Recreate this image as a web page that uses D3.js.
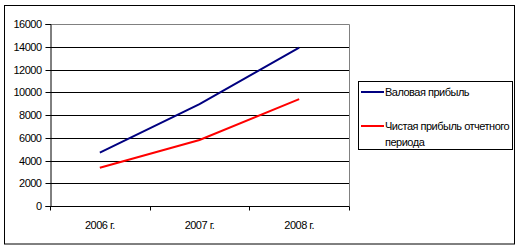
<!DOCTYPE html>
<html>
<head>
<meta charset="utf-8">
<script src="https://cdn.jsdelivr.net/npm/d3@7"></script>
<style>
  body { margin: 0; background: #fff; }
  svg text { font-family: "Liberation Sans", Arial, sans-serif; font-size: 11px; letter-spacing: -0.5px; fill: #000; }
</style>
</head>
<body>
<div id="chart"></div>
<script>
const years = ['2006 г.', '2007 г.', '2008 г.'];
const gross = [4690, 8950, 13920];
const net = [3370, 5800, 9390];
const yTicks = [0, 2000, 4000, 6000, 8000, 10000, 12000, 14000, 16000];
const seriesNames = ['Валовая прибыль', 'Чистая прибыль отчетного периода'];
const seriesColors = ['#000080', '#ff0000'];

const width = 520, height = 249;
const plot = {left: 50, top: 24, right: 349, bottom: 206};

const svg = d3.select('#chart').append('svg')
    .attr('width', width).attr('height', height);

// outer frame
svg.append('rect').attr('x', 4.5).attr('y', 5.5).attr('width', 510).attr('height', 238.5)
    .attr('fill', '#fff').attr('stroke', '#000');

const x = d3.scaleBand().domain(years).range([plot.left, plot.right]);
const y = d3.scaleLinear().domain([0, 16000]).range([plot.bottom, plot.top]);

// grid lines
svg.append('g')
    .selectAll('line')
    .data(yTicks.slice(1, -1))
    .join('line')
    .attr('x1', plot.left).attr('x2', plot.right)
    .attr('y1', d => Math.round(y(d)) + 0.5).attr('y2', d => Math.round(y(d)) + 0.5)
    .attr('stroke', '#000');

// plot area border (grey top/right)
svg.append('path')
    .attr('d', `M${plot.left},${plot.top + 0.5}H${plot.right + 0.5}V${plot.bottom}`)
    .attr('fill', 'none').attr('stroke', '#808080');

// y axis
const yAxis = svg.append('g')
    .attr('transform', `translate(${plot.left + 0.5},0)`)
    .call(d3.axisLeft(y).tickValues(yTicks).tickSize(5).tickPadding(4).tickFormat(d3.format('d')));
yAxis.select('.domain').attr('stroke', '#000');
yAxis.selectAll('.tick line').attr('stroke', '#000');
yAxis.selectAll('.tick').attr('transform', d => `translate(0,${Math.round(y(d)) + 0.5})`);
yAxis.selectAll('text').attr('font-family', null).attr('font-size', null);

// x axis
const xAxis = svg.append('g')
    .attr('transform', `translate(0,${plot.bottom + 0.5})`)
    .call(d3.axisBottom(x).tickSize(0).tickPadding(15));
xAxis.select('.domain').attr('stroke', '#000').attr('d', `M${plot.left},0H${plot.right + 0.5}`);
xAxis.selectAll('text').attr('font-family', null).attr('font-size', null);
xAxis.append('g').selectAll('line')
    .data(d3.range(years.length + 1))
    .join('line')
    .attr('x1', i => Math.round(plot.left + i * x.bandwidth()) + 0.5)
    .attr('x2', i => Math.round(plot.left + i * x.bandwidth()) + 0.5)
    .attr('y1', 0).attr('y2', 4)
    .attr('stroke', '#000');

// lines
const line = d3.line()
    .x((d, i) => x(years[i]) + x.bandwidth() / 2)
    .y(d => y(d));

[gross, net].forEach((s, i) => {
    svg.append('path')
        .datum(s)
        .attr('d', line)
        .attr('fill', 'none')
        .attr('stroke', seriesColors[i])
        .attr('stroke-width', 2);
});

// legend
const lg = svg.append('g');
lg.append('rect').attr('x', 358.5).attr('y', 81.5).attr('width', 154).attr('height', 68)
    .attr('fill', '#fff').attr('stroke', '#000');

const legendRows = [
    {lineY: 92, lines: [seriesNames[0]]},
    {lineY: 126, lines: ['Чистая прибыль отчетного', 'периода']}
];
legendRows.forEach((r, i) => {
    lg.append('line').attr('x1', 361).attr('x2', 384)
        .attr('y1', r.lineY).attr('y2', r.lineY)
        .attr('stroke', seriesColors[i]).attr('stroke-width', 2);
    const t = lg.append('text').attr('x', 385).attr('y', r.lineY + 4);
    r.lines.forEach((l, j) => {
        t.append('tspan').attr('x', 385).attr('dy', j === 0 ? 0 : 16).text(l);
    });
});
</script>
</body>
</html>
